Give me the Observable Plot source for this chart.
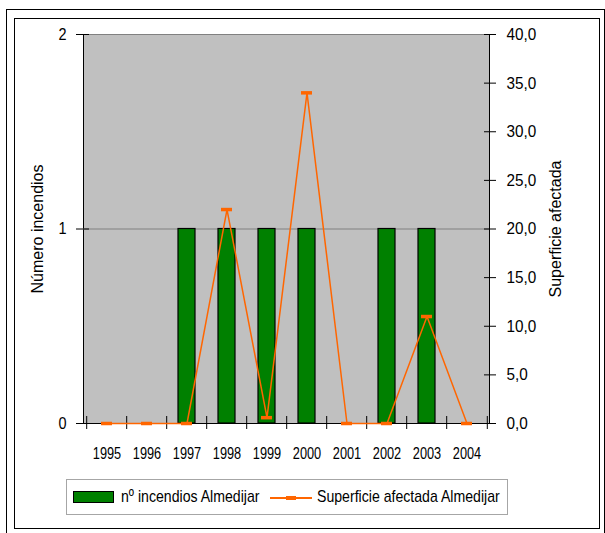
<!DOCTYPE html>
<html><head><meta charset="utf-8">
<script src="https://cdn.jsdelivr.net/npm/d3@7"></script>
<script src="https://cdn.jsdelivr.net/npm/@observablehq/plot@0.6"></script>
<style>
html,body{margin:0;padding:0;background:#fff;}
#wrap{position:relative;width:605px;height:533px;overflow:hidden;font-family:"Liberation Sans",Arial,sans-serif;color:#000;}
.outer{position:absolute;left:6px;top:9px;width:599px;height:540px;border:1px solid #000;box-sizing:border-box;}
.inner{position:absolute;left:14px;top:18px;width:586px;height:511px;border:1px solid #000;box-sizing:border-box;}
#chart{position:absolute;left:0;top:0;}
.legend{position:absolute;left:66px;top:479px;width:442px;height:36px;border:1px solid #A6A6A6;box-sizing:border-box;background:#fff;font-size:17px;}
.sw{position:absolute;left:6px;top:11px;width:41px;height:12px;background:#008000;border:1.5px solid #000;box-sizing:border-box;}
.lt{position:absolute;top:7px;white-space:nowrap;line-height:20px;transform:scaleX(0.83);transform-origin:0 50%;}
.ln{position:absolute;left:203px;top:17px;width:42px;height:1.5px;background:#FF6600;}
.mk{position:absolute;left:219px;top:16px;width:10px;height:3.5px;background:#FF6600;}
</style></head>
<body>
<div id="wrap">
  <div class="outer"></div>
  <div class="inner"></div>
  <div id="chart"></div>
  <div class="legend">
    <div class="sw"></div><div class="lt" id="l1" style="left:54px"></div>
    <div class="ln"></div><div class="mk"></div><div class="lt" id="l2" style="left:250px"></div>
  </div>
</div>
<script>
const years = ["1995","1996","1997","1998","1999","2000","2001","2002","2003","2004"];
const incendios = [0,0,1,1,1,1,0,1,1,0];
const superficie = [0,0,0,22,0.6,34,0,0,11,0];
const leftTicks = [0,1,2];
const rightTicks = [0,5,10,15,20,25,30,35,40];
const seriesNames = ["nº incendios Almedijar","Superficie afectada Almedijar"];
const axisTitles = ["Número incendios","Superficie afectada"];
const ratio = 40 / 2; // right axis max / left axis max

document.getElementById("l1").textContent = seriesNames[0];
document.getElementById("l2").textContent = seriesNames[1];

const data = years.map((y, i) => ({year: y, n: incendios[i], s: superficie[i]}));
const W = 605, H = 470, mL = 83, mR = 116, mT = 34, mB = 47;
const step = (W - mL - mR) / years.length;
const font = '"Liberation Sans",Arial,sans-serif';

const chart = Plot.plot({
  width: W, height: H,
  marginLeft: mL, marginRight: mR, marginTop: mT, marginBottom: mB,
  style: {fontFamily: font, fontSize: "17px", color: "#000", background: "transparent", overflow: "visible"},
  x: {type: "band", domain: years, paddingInner: 0.58, paddingOuter: 0.29},
  y: {domain: [0, 2]},
  marks: [
    Plot.frame({fill: "#C0C0C0", stroke: "#000"}),
    Plot.ruleY([1, 2], {stroke: "#808080", strokeWidth: 1}),
    Plot.barY(data.filter(d => d.n > 0), {x: "year", y: "n", fill: "#008000", stroke: "#000", strokeWidth: 1.2}),
    Plot.ruleY([0], {stroke: "#000"}),
    Plot.ruleX(years, {x: d => d, y1: 0, y2: 0, dx: -step / 2, insetTop: -7, insetBottom: -6, stroke: "#000"}),
    Plot.ruleX([years[years.length - 1]], {x: d => d, y1: 0, y2: 0, dx: step / 2, insetTop: -7, insetBottom: -6, stroke: "#000"}),
    Plot.line(data, {x: "year", y: d => d.s / ratio, stroke: "#FF6600", strokeWidth: 1.5}),
    Plot.tickY(data, {x: "year", y: d => d.s / ratio, stroke: "#FF6600", strokeWidth: 3.5, insetLeft: 3, insetRight: 3}),
    Plot.axisY(leftTicks, {anchor: "left", tickSize: 13, dx: 6, tickFormat: () => "", stroke: "#000", label: null}),
    Plot.axisY(leftTicks, {anchor: "left", tickSize: 0, tickPadding: 17, tickFormat: d => String(d), fontSize: 17, label: null}),
    Plot.axisY(rightTicks.map(v => v / ratio), {anchor: "right", tickSize: 12, dx: -6, tickFormat: () => "", stroke: "#000", label: null}),
    Plot.axisY(rightTicks.map(v => v / ratio), {anchor: "right", tickSize: 0, tickPadding: 17, fontSize: 17, label: null,
      tickFormat: v => (v * ratio).toFixed(1).replace(".", ",")}),
    Plot.axisX({tickSize: 0, tickPadding: 23, fontSize: 17, label: null}),
    Plot.text([axisTitles[0]], {frameAnchor: "left", textAnchor: "middle", dx: -46, rotate: -90, fontSize: 16, fill: "#000"}),
    Plot.text([axisTitles[1]], {frameAnchor: "right", textAnchor: "middle", dx: 66, rotate: -90, fontSize: 16, fill: "#000"})
  ]
});
document.getElementById("chart").appendChild(chart);

// condense tick labels horizontally (reference uses a narrow face)
chart.querySelectorAll('g[aria-label$="tick label"] text').forEach(t => {
  const s = t.textContent;
  if (!s) return;
  const len = t.getComputedTextLength();
  let f = 0.85;
  if (/^\d{4}$/.test(s)) f = 0.75;
  else if (s.includes(",")) f = 0.9;
  t.setAttribute("textLength", (len * f).toFixed(2));
  t.setAttribute("lengthAdjust", "spacingAndGlyphs");
});
</script>
</body></html>
